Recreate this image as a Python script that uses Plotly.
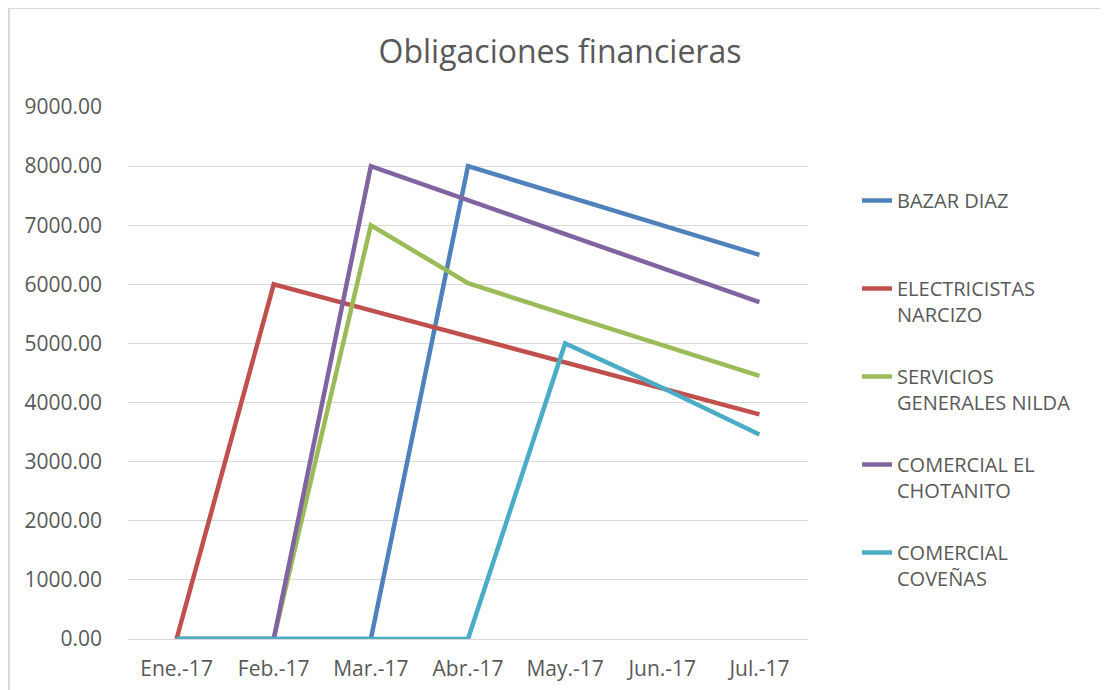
import plotly.graph_objects as go

months = ["Ene.-17", "Feb.-17", "Mar.-17", "Abr.-17", "May.-17", "Jun.-17", "Jul.-17"]
series_names = ["BAZAR DIAZ", "ELECTRICISTAS<br>NARCIZO", "SERVICIOS<br>GENERALES NILDA",
                "COMERCIAL EL<br>CHOTANITO", "COMERCIAL<br>COVEÑAS"]
bazar_diaz = [0, 0, 0, 8000, 7500, 7000, 6500]
electricistas_narcizo = [0, 6000, 5560, 5120, 4680, 4240, 3800]
servicios_nilda = [0, 0, 7000, 6020, 5490, 4975, 4450]
comercial_chotanito = [0, 0, 8000, 7425, 6850, 6275, 5700]
comercial_covenas = [0, 0, 0, 0, 5000, 4250, 3460]
colors = ["#4F81BD", "#C0504D", "#9BBB59", "#8064A2", "#4BACC6"]

all_values = [bazar_diaz, electricistas_narcizo, servicios_nilda, comercial_chotanito, comercial_covenas]

FONT = "Open Sans"
TXT = "#595959"

fig = go.Figure()
for i, (name, vals, c) in enumerate(zip(series_names, all_values, colors)):
    label = name if "<br>" in name else name + "<br>&nbsp;"
    fig.add_trace(go.Scatter(x=months, y=vals, mode="lines", name=label,
                             legendgroup=f"g{i}",
                             line=dict(color=c, width=4.5)))

OFF = 8  # page body margin
W, H = 1100, 682
L, T = 128 - OFF, 107 - OFF
R = W - (808 - OFF)
B = H - (639 - OFF)
pw = W - L - R
ph = H - T - B

fig.update_layout(
    width=W, height=H,
    margin=dict(l=L, r=R, t=T, b=B, autoexpand=False),
    paper_bgcolor="white", plot_bgcolor="white",
    title=dict(text="Obligaciones financieras", x=(560 - OFF) / W, xanchor="center",
               y=1 - (52 - OFF) / H, yanchor="middle",
               font=dict(family=FONT, size=32, color=TXT)),
    font=dict(family=FONT, color=TXT),
    xaxis=dict(type="category", range=[-0.5, 6.5], showgrid=False, showline=False,
               automargin=False,
               ticks="", tickfont=dict(size=21, color=TXT), ticklabelstandoff=15),
    yaxis=dict(range=[0, 9000], dtick=1000, tickformat=".2f", showgrid=True,
               automargin=False,
               gridcolor="#D9D9D9", gridwidth=1, zeroline=True, zerolinecolor="#D9D9D9",
               zerolinewidth=1, showline=False, ticks="",
               tickfont=dict(size=21, color=TXT), ticklabelstandoff=25),
    legend=dict(x=(857 - OFF - L) / pw, xanchor="left", y=1 - (181 - OFF - T) / ph, yanchor="top",
                font=dict(family=FONT, size=20, color=TXT), valign="top",
                tracegroupgap=33, bgcolor="rgba(0,0,0,0)"),
    showlegend=True,
    shapes=[dict(type="rect", xref="paper", yref="paper",
                 x0=(9 - OFF - L) / pw, x1=(W + 10 - L) / pw,
                 y0=-(B + 10) / ph, y1=1 + (T - 0) / ph,
                 line=dict(color="#D9D9D9", width=2), fillcolor="rgba(0,0,0,0)", layer="below")],
)

fig.write_html("out.html")
